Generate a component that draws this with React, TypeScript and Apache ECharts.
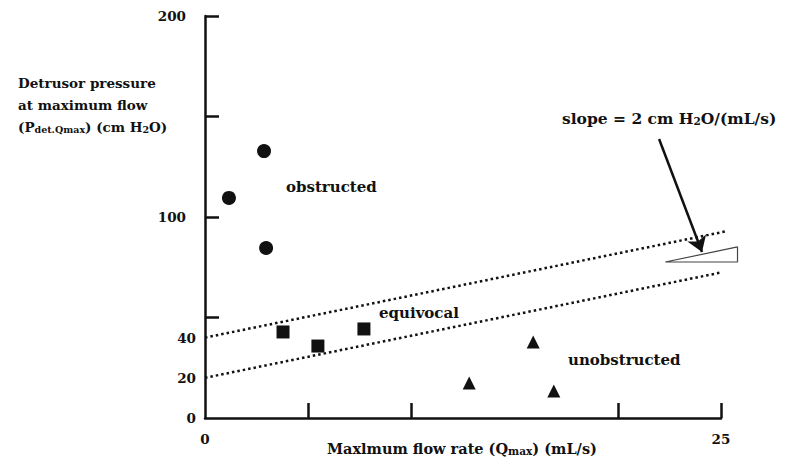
import React, { useEffect, useRef } from "react";
import * as echarts from "echarts";

const circles = [[1.16, 109.5], [2.86, 132.8], [2.96, 84.6]];
const squares = [[3.78, 42.8], [5.47, 35.8], [7.7, 44.3]];
const triangles = [[12.8, 17.4], [15.9, 37.8], [16.9, 13.4]];
const upperLine = [[0, 40], [25.3, 93]];
const lowerLine = [[0, 20], [25.05, 72.5]];
const wedge = [[22.3, 77.6], [25.8, 85.1], [25.8, 77.6], [22.3, 77.6]];
const arrow = [[22.0, 138.8], [24.08, 82.6]];
const yTicks = [50, 100, 150, 200];
const yLabels = [0, 20, 40, 100, 200];
const xTicks = [5, 10, 20, 25];
const xLabels = [0, 25];

const FONT = "'DejaVu Serif', serif";
const INK = "#111";
// plot geometry: x 0..25 spans 516 px; the overlay grid extends to 26 with the same scale
const PX_PER_X = 516 / 25;

export default function App() {
  const ref = useRef<HTMLDivElement>(null);
  useEffect(() => {
    document.body.style.margin = "0";
    const chart = echarts.init(ref.current!, null, { renderer: "svg" });
    const sub = { fontSize: 9.5, fontWeight: "bold", fontFamily: FONT, fill: INK, verticalAlign: "bottom", lineHeight: 5 };
    const regionText = (x: number, y: number, t: string) => ({
      type: "text", left: x, top: y,
      style: { text: t, font: `bold 15px ${FONT}`, fill: INK },
    });
    const hiddenAxis = { show: false, axisLine: { show: false }, axisTick: { show: false }, axisLabel: { show: false }, splitLine: { show: false } };
    chart.setOption({
      animation: false,
      grid: [
        { left: 205, right: 69, top: 16, bottom: 44, outerBoundsMode: "none" },
        { left: 205, right: 790 - 205 - PX_PER_X * 26, top: 16, bottom: 44, outerBoundsMode: "none" },
      ],
      xAxis: [
        {
          type: "value", min: 0, max: 25, gridIndex: 0,
          axisLine: { show: true, lineStyle: { color: INK, width: 2.5 } },
          axisTick: { show: true, inside: true, length: 15, customValues: xTicks, lineStyle: { color: INK, width: 2.5 } },
          axisLabel: { customValues: xLabels, margin: 14, color: INK, fontFamily: FONT, fontWeight: "bold", fontSize: 13.5 },
          splitLine: { show: false },
        },
        { type: "value", min: 0, max: 26, gridIndex: 1, ...hiddenAxis },
      ],
      yAxis: [
        {
          type: "value", min: 0, max: 200, gridIndex: 0,
          axisLine: { show: true, lineStyle: { color: INK, width: 2.5 } },
          axisTick: { show: true, inside: true, length: 14, customValues: yTicks, lineStyle: { color: INK, width: 2.5 } },
          axisLabel: {
            customValues: yLabels, margin: 9, color: INK, fontFamily: FONT, fontWeight: "bold", fontSize: 13.5,
            formatter: (v: number) => (v >= 100 ? `{w|${v}}` : `${v}`),
            rich: { w: { color: INK, fontFamily: FONT, fontWeight: "bold", fontSize: 13.5, padding: [0, 10, 0, 0] } },
          },
          splitLine: { show: false },
        },
        { type: "value", min: 0, max: 200, gridIndex: 1, ...hiddenAxis },
      ],
      series: [
        { type: "scatter", data: circles, symbol: "circle", symbolSize: 14, itemStyle: { color: INK, opacity: 1 } },
        { type: "scatter", data: squares, symbol: "rect", symbolSize: 13, itemStyle: { color: INK, opacity: 1 } },
        { type: "scatter", data: triangles, symbol: "triangle", symbolSize: 13, itemStyle: { color: INK, opacity: 1 } },
        { type: "line", xAxisIndex: 1, yAxisIndex: 1, data: upperLine, symbol: "none", lineStyle: { color: INK, width: 2.5, type: [2.5, 3] } },
        { type: "line", xAxisIndex: 1, yAxisIndex: 1, data: lowerLine, symbol: "none", lineStyle: { color: INK, width: 2.5, type: [2.5, 3] } },
        { type: "line", xAxisIndex: 1, yAxisIndex: 1, data: wedge, symbol: "none", lineStyle: { color: "#444", width: 1.2 } },
        {
          type: "line", xAxisIndex: 1, yAxisIndex: 1, data: [], symbol: "none",
          markLine: {
            silent: true, symbol: ["none", "arrow"], symbolSize: 15,
            label: { show: false },
            lineStyle: { color: INK, width: 2.5, type: "solid", opacity: 1 },
            data: [[{ coord: arrow[0] }, { coord: arrow[1] }]],
          },
        },
      ],
      graphic: [
        { type: "text", left: 18, top: 76, style: { text: "Detrusor pressure", font: `bold 13.5px ${FONT}`, fill: INK } },
        { type: "text", left: 18, top: 98, style: { text: "at maximum flow", font: `bold 13.5px ${FONT}`, fill: INK } },
        {
          type: "text", left: 18, top: 120,
          style: { text: "(P{s|det.Qmax}) (cm H{s|2}O)", font: `bold 13.5px ${FONT}`, fill: INK, rich: { s: sub } },
        },
        {
          type: "text", left: 562, top: 110,
          style: { text: "slope = 2 cm H{s|2}O/(mL/s)", font: `bold 15.5px ${FONT}`, fill: INK, rich: { s: { ...sub, fontSize: 10.5 } } },
        },
        {
          type: "text", left: 327, top: 441,
          style: { text: "Maxlmum flow rate (Q{s|max}) (mL/s)", font: `bold 14.5px ${FONT}`, fill: INK, rich: { s: { ...sub, fontSize: 10.5 } } },
        },
        regionText(286, 179, "obstructed"),
        regionText(379, 305, "equivocal"),
        regionText(568, 352, "unobstructed"),
      ],
    });
    return () => chart.dispose();
  }, []);
  return <div ref={ref} style={{ position: "fixed", left: 0, top: 0, width: 790, height: 462, background: "#fff" }} />;
}
